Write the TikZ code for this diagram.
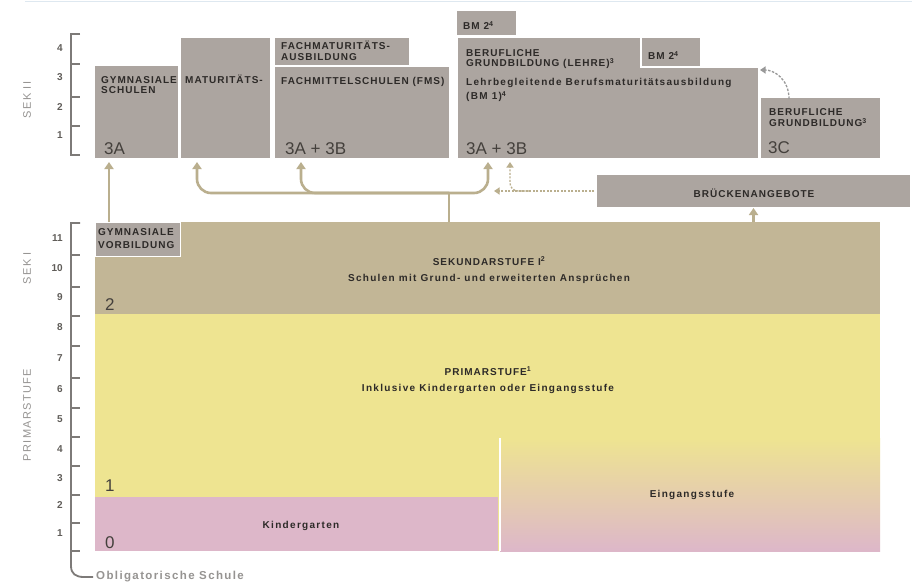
\documentclass[tikz,border=0pt]{standalone}
\usepackage{fontspec}
\setmainfont{Liberation Sans}
\newfontfamily\spfont[LetterSpace=10]{Liberation Sans}
\newfontfamily\regfont[LetterSpace=13]{Liberation Sans}
\newfontfamily\sidefont[LetterSpace=12]{Liberation Sans}
\usetikzlibrary{arrows.meta}
\definecolor{gcol}{RGB}{172,165,160}
\definecolor{sekcol}{RGB}{194,182,150}
\definecolor{yelcol}{RGB}{238,228,145}
\definecolor{pinkcol}{RGB}{221,183,201}
\definecolor{tancol}{RGB}{186,175,142}
\definecolor{rulecol}{RGB}{125,122,120}
\definecolor{txt}{RGB}{45,42,40}
\definecolor{numcol}{RGB}{68,64,60}
\definecolor{sidecol}{RGB}{150,148,146}
\definecolor{topline}{RGB}{222,232,240}
\tikzset{
  box/.style={rectangle, inner sep=0pt, outer sep=0pt, anchor=north west, draw=none},
  lab/.style={inner sep=0pt, anchor=base west, text=txt, font=\spfont\bfseries\fontsize{10}{11}\selectfont},
  reg/.style={inner sep=0pt, anchor=base west, text=txt, font=\regfont\bfseries\fontsize{10}{11}\selectfont},
  num/.style={inner sep=0pt, anchor=base west, text=numcol, font=\fontsize{17}{17}\selectfont},
  rnum/.style={inner sep=0pt, anchor=east, text=numcol!85, font=\bfseries\fontsize{10}{10}\selectfont},
  side/.style={inner sep=0pt, text=sidecol, font=\sidefont\fontsize{11}{11}\selectfont, rotate=90},
  rule/.style={draw=rulecol, line width=1.8pt},
  tanline/.style={draw=tancol, line width=2.6pt},
  tanarrow/.style={draw=tancol, line width=2.6pt, -{Triangle[width=9pt,length=7pt]}},
  tandash/.style={draw=tancol, line width=1.3pt, dash pattern=on 2pt off 1.5pt, -{Triangle[width=7pt,length=5.5pt]}},
  greydash/.style={draw=gray!80, line width=1.3pt, dash pattern=on 2.5pt off 1.5pt, -{Triangle[width=7pt,length=5.5pt]}},
}
\begin{document}
\begin{tikzpicture}[x=1pt,y=-1pt]
\useasboundingbox (0,0) rectangle (912,583);
\fill[white] (0,0) rectangle (912,583);
\draw[topline, line width=1pt] (25,2) -- (912,2);

% ---------- SEK II boxes
\node[box, fill=gcol, minimum width=83, minimum height=92] (gym) at (95,66) {};
\node[box, fill=gcol, minimum width=89, minimum height=120] (mat) at (181,38) {};
\node[box, fill=gcol, minimum width=134, minimum height=27] (fmat) at (275,38) {};
\node[box, fill=gcol, minimum width=174, minimum height=91] (fms) at (275,67) {};
\node[box, fill=gcol, minimum width=59, minimum height=24] (bmtop) at (457,11) {};
\node[box, fill=gcol, minimum width=182, minimum height=31] (lehretop) at (458,38) {};
\node[box, fill=gcol, minimum width=300, minimum height=90] (lehre) at (458,68) {};
\node[box, fill=gcol, minimum width=58, minimum height=28] (bmright) at (642,38) {};
\node[box, fill=gcol, minimum width=119, minimum height=60] (bg) at (761,98) {};
\node[box, fill=gcol, minimum width=313, minimum height=32] (brueck) at (597,175) {};

% ---------- SEK I and Primarstufe
\node[box, fill=sekcol, minimum width=785, minimum height=92] (sek1) at (95,222) {};
\node[box, fill=gcol, draw=white, line width=1pt, minimum width=85, minimum height=34] (gvor) at (95,222) {};
\node[box, fill=yelcol, minimum width=785, minimum height=237] (prim) at (95,314) {};
\node[box, fill=pinkcol, minimum width=403, minimum height=54] (kg) at (95,497) {};
\node[box, top color=yelcol, bottom color=pinkcol, minimum width=380, minimum height=113] (eing) at (500,438) {};
\draw[white, line width=1.5pt] (eing.north west) -- (eing.south west);

% ---------- texts
\node[lab] (tgym1) at (101,84) {GYMNASIALE};
\node[lab] (tgym2) at (101,94) {SCHULEN};
\node[lab] (tmat) at (185,84) {MATURITÄTS-};
\node[lab] (tfmat1) at (281,50) {FACHMATURITÄTS-};
\node[lab] (tfmat2) at (281,61) {AUSBILDUNG};
\node[lab] (tfms) at (281,85) {FACHMITTELSCHULEN (FMS)};
\node[lab] (tbmtop) at (463,30) {BM 2\textsuperscript{4}};
\node[lab] (tleh1) at (466,57) {BERUFLICHE};
\node[lab] (tleh2) at (466,67) {GRUNDBILDUNG (LEHRE)\textsuperscript{3}};
\node[lab] (tbmright) at (648,60) {BM 2\textsuperscript{4}};
\node[reg] (tleh3) at (466,86) {Lehrbegleitende Berufsmaturitätsausbildung};
\node[reg] (tleh4) at (466,100) {(BM 1)\textsuperscript{4}};
\node[lab] (tbg1) at (769,116) {BERUFLICHE};
\node[lab] (tbg2) at (769,127) {GRUNDBILDUNG\textsuperscript{3}};
\node[lab, anchor=base] (tbr) at (754,197) {BRÜCKENANGEBOTE};
\node[lab] (tgv1) at (98,235) {GYMNASIALE};
\node[lab] (tgv2) at (98,248) {VORBILDUNG};
\node[lab, anchor=base] (tsek1) at (489,265) {SEKUNDARSTUFE I\textsuperscript{2}};
\node[reg, anchor=base] (tsek2) at (489,281) {Schulen mit Grund- und erweiterten Ansprüchen};
\node[lab, anchor=base] (tpri1) at (488,375) {PRIMARSTUFE\textsuperscript{1}};
\node[reg, anchor=base] (tpri2) at (488,391) {Inklusive Kindergarten oder Eingangsstufe};
\node[reg, anchor=base] (tkg) at (301,528) {Kindergarten};
\node[reg, anchor=base] (teing) at (692,497) {Eingangsstufe};

% big level numbers
\node[num] (n3a) at (104,154) {3A};
\node[num] (n3ab) at (285,154) {3A + 3B};
\node[num] (n3abl) at (466,154) {3A + 3B};
\node[num] (n3c) at (768,153) {3C};
\node[num] (n2) at (105,310) {2};
\node[num] (n1) at (105,491) {1};
\node[num] (n0) at (105,548) {0};

% ---------- rulers
\draw[rule] (80,34) -- (71,34) -- (71,155) -- (80,155);
\foreach \y in {64,97,126} \draw[rule] (71,\y) -- (80,\y);
\foreach \n/\y in {4/48,3/77,2/107,1/135} \node[rnum] (sa\n) at (63,\y) {\n};
\draw[rule] (80,223) -- (71,223) -- (71,566) .. controls (71,574) and (76,577) .. (84,577) -- (93,577);
\foreach \y in {255,287,316,346,378,408,437,466,495,523,551} \draw[rule] (71,\y) -- (80,\y);
\foreach \n/\y in {11/238,10/268,9/297,8/327,7/358,6/389,5/419,4/449,3/478,2/505,1/533} \node[rnum] (sb\n) at (63,\y) {\n};
\node[inner sep=0pt, anchor=west, text=sidecol, font=\sidefont\bfseries\fontsize{11.5}{11.5}\selectfont] (oblig) at (96,577) {Obligatorische Schule};

\node[side] (lsek2) at (27,100) {SEK II};
\node[side] (lsek1) at (27,268) {SEK I};
\node[side] (lprim) at (27,415) {PRIMARSTUFE};

% ---------- connectors
\coordinate (trunk) at (449,193);
\draw[tanarrow] ([xshift=14pt]gvor.north west) -- ([xshift=14pt,yshift=-4pt]gym.south west);
\draw[tanline] (trunk |- sek1.north) -- (trunk);
\draw[tanarrow, rounded corners=14pt] (trunk) -| ([xshift=16pt,yshift=-4pt]mat.south west);
\draw[tanarrow, rounded corners=14pt] (trunk) -| ([xshift=26pt,yshift=-4pt]fms.south west);
\draw[tanarrow, rounded corners=14pt] (trunk) -| ([xshift=30pt,yshift=-4pt]lehre.south west);
\draw[tandash] ([xshift=-3pt]brueck.west) -- ++(-100,0);
\draw[tandash, rounded corners=8pt] ([xshift=-68pt]brueck.west) -| ([xshift=52pt,yshift=-4pt]lehre.south west);
\draw[tanarrow] (sek1.north -| brueck.south) -- ([yshift=-1pt]brueck.south);
\draw[greydash] ([xshift=28pt,yshift=-1pt]bg.north west) .. controls +(0,-20) and +(14,0) .. ([xshift=2pt,yshift=-2pt]lehre.north east);
\end{tikzpicture}
\end{document}
